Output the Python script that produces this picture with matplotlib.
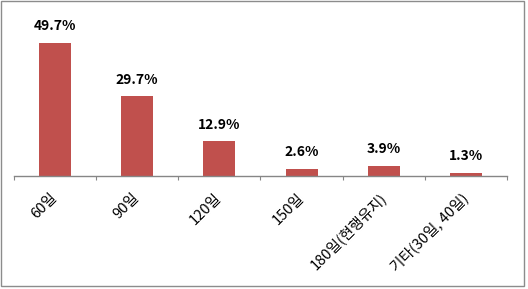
import matplotlib
matplotlib.use("Agg")
import matplotlib.pyplot as plt
from matplotlib.patches import Rectangle

plt.rcParams['font.family'] = ['Noto Sans CJK KR', 'DejaVu Sans']

# data
categories = ["60일", "90일", "120일", "150일", "180일(현행유지)", "기타(30일, 40일)"]
values = [49.7, 29.7, 12.9, 2.6, 3.9, 1.3]
value_labels = ["49.7%", "29.7%", "12.9%", "2.6%", "3.9%", "1.3%"]

W, H = 528, 289
fig = plt.figure(figsize=(W / 100, H / 100), dpi=100)

# axes placed in pixel terms: axis line at y=176, x from 14 to 507
ax_left, ax_right = 14 / W, 507 / W
ax_bottom = (H - 176) / H
ax_height = 161 / H
ax = fig.add_axes([ax_left, ax_bottom, ax_right - ax_left, ax_height])

x = list(range(len(categories)))
bars = ax.bar(x, values, width=0.39, color="#C0504D", zorder=2)

for xi, v, lab in zip(x, values, value_labels):
    ax.annotate(lab, (xi, v), xytext=(0, 7), textcoords="offset points",
                ha="center", va="bottom", fontsize=10, fontweight="bold",
                color="black")

ax.set_xlim(-0.5, len(categories) - 0.5)
ax.set_ylim(0, 60)

for s in ["top", "right", "left"]:
    ax.spines[s].set_visible(False)
ax.spines["bottom"].set_color("#868686")
ax.spines["bottom"].set_linewidth(1.0)
ax.set_yticks([])

# tick marks between categories, labels at centers
ax.set_xticks([i - 0.5 for i in range(len(categories) + 1)], minor=True)
ax.tick_params(axis="x", which="minor", direction="out", length=3,
               color="#868686", width=0.8)
ax.set_xticks(x)
ax.set_xticklabels(categories, rotation=45, ha="right", va="center",
                   rotation_mode="anchor", fontsize=10.5)
ax.tick_params(axis="x", which="major", length=0, pad=14)

# figure border
fig.patches.append(Rectangle((1 / W, 1 - 286 / H), 523 / W, 285 / H,
                             transform=fig.transFigure, fill=False,
                             edgecolor="#8c8c8c", linewidth=1.0))

fig.savefig("out.png", dpi=100)
